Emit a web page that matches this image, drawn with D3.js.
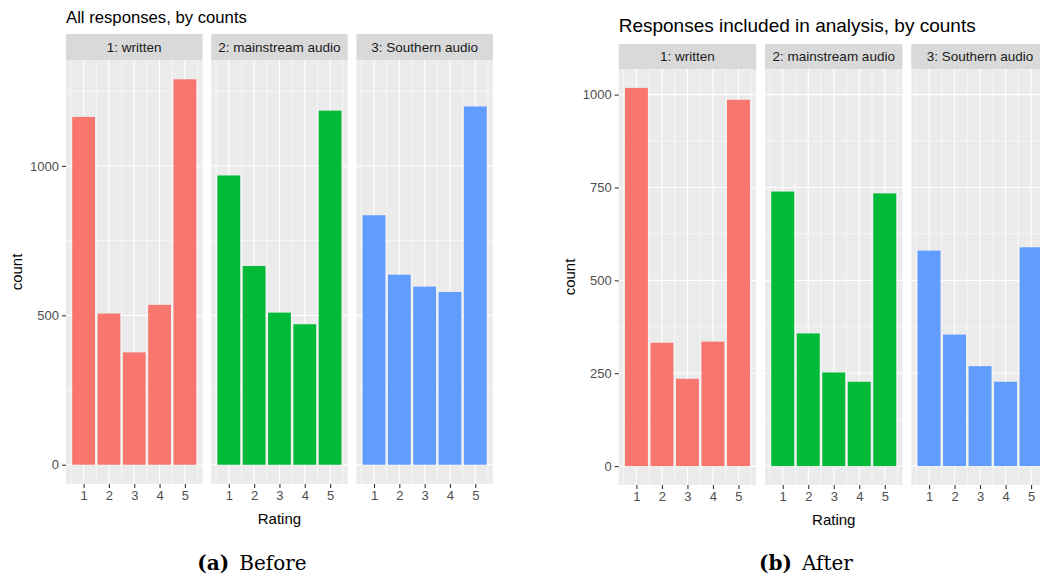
<!DOCTYPE html>
<html>
<head>
<meta charset="utf-8">
<script src="https://cdn.jsdelivr.net/npm/d3@7"></script>
<style>
  html, body { margin: 0; padding: 0; background: #ffffff; }
  svg { display: block; }
</style>
</head>
<body>
<svg id="chart" width="1040" height="575"></svg>
<script>
// Rating categories and facet names
const ratings = [1, 2, 3, 4, 5];
const facetNames = ["1: written", "2: mainstream audio", "3: Southern audio"];
const facetColors = ["#F8766D", "#00BA38", "#619CFF"];

// Counts per rating, all responses
const beforeWritten   = [1164, 506, 376, 535, 1290];
const beforeMainstream = [968, 665, 509, 470, 1185];
const beforeSouthern  = [835, 636, 596, 578, 1199];

// Counts per rating, responses included in analysis
const afterWritten    = [1018, 332, 235, 335, 986];
const afterMainstream = [739, 357, 252, 227, 734];
const afterSouthern   = [580, 354, 269, 227, 589];

// Y axis breaks
const beforeTicks = [0, 500, 1000];
const afterTicks = [0, 250, 500, 750, 1000];

const SANS = "Liberation Sans, Arial, sans-serif";
const svg = d3.select("#chart");

function facetChart(opts) {
  const g = svg.append("g");
  const series = opts.series;
  const maxVal = d3.max(series.flat());
  // 5% expansion on the count axis
  const y = d3.scaleLinear()
    .domain([-0.05 * maxVal, maxVal * 1.05])
    .range([opts.bottom, opts.top]);
  // continuous rating axis: bars span 0.55..5.45, expanded 5%
  const span = 5.45 - 0.55;
  const xDomain = [0.55 - 0.05 * span, 5.45 + 0.05 * span];

  // minor y breaks halfway between majors
  const majors = opts.ticks;
  const minors = [];
  const d = majors[1] - majors[0];
  for (let v = majors[0] + d / 2; v < maxVal * 1.05; v += d) {
    if (!majors.includes(v)) minors.push(v);
  }

  series.forEach((vals, i) => {
    const x0 = opts.left + i * (opts.width + opts.gap);
    const x = d3.scaleLinear().domain(xDomain).range([x0, x0 + opts.width]);
    const pg = g.append("g");

    // strip
    pg.append("rect")
      .attr("x", x0).attr("y", opts.stripTop)
      .attr("width", opts.width).attr("height", opts.top - opts.stripTop)
      .attr("fill", "#d9d9d9");
    pg.append("text")
      .attr("x", x0 + opts.width / 2)
      .attr("y", (opts.stripTop + opts.top) / 2)
      .attr("dy", "0.35em")
      .attr("text-anchor", "middle")
      .attr("font-family", SANS)
      .attr("font-size", 13.5)
      .attr("fill", "#1a1a1a")
      .text(facetNames[i]);

    // panel background
    pg.append("rect")
      .attr("x", x0).attr("y", opts.top)
      .attr("width", opts.width).attr("height", opts.bottom - opts.top)
      .attr("fill", "#ebebeb");

    // minor grid
    pg.selectAll(".hmin").data(minors).join("line")
      .attr("x1", x0).attr("x2", x0 + opts.width)
      .attr("y1", v => y(v)).attr("y2", v => y(v))
      .attr("stroke", "#ffffff").attr("stroke-width", 0.6);
    const xMinors = [0.5, 1.5, 2.5, 3.5, 4.5, 5.5];
    pg.selectAll(".vmin").data(xMinors).join("line")
      .attr("x1", v => x(v)).attr("x2", v => x(v))
      .attr("y1", opts.top).attr("y2", opts.bottom)
      .attr("stroke", "#ffffff").attr("stroke-width", 0.6);

    // major grid
    pg.selectAll(".hmaj").data(majors).join("line")
      .attr("x1", x0).attr("x2", x0 + opts.width)
      .attr("y1", v => y(v)).attr("y2", v => y(v))
      .attr("stroke", "#ffffff").attr("stroke-width", 1.1);
    pg.selectAll(".vmaj").data(ratings).join("line")
      .attr("x1", v => x(v)).attr("x2", v => x(v))
      .attr("y1", opts.top).attr("y2", opts.bottom)
      .attr("stroke", "#ffffff").attr("stroke-width", 1.1);

    // bars
    pg.selectAll(".bar").data(vals).join("rect")
      .attr("x", (v, j) => x(ratings[j] - 0.45))
      .attr("width", (v, j) => x(ratings[j] + 0.45) - x(ratings[j] - 0.45))
      .attr("y", v => y(v))
      .attr("height", v => y(0) - y(v))
      .attr("fill", facetColors[i]);

    // x axis
    const xAxis = d3.axisBottom(x).tickValues(ratings).tickSize(4).tickPadding(3)
      .tickFormat(d3.format("d"));
    const ax = pg.append("g").attr("transform", `translate(0,${opts.bottom})`).call(xAxis);
    ax.select(".domain").remove();
    ax.selectAll("line").attr("stroke", "#333333").attr("stroke-width", 1.1);
    ax.selectAll("text").attr("fill", "#4d4d4d").attr("font-size", 13)
      .attr("font-family", SANS);
  });

  // y axis
  const yAxis = d3.axisLeft(y).tickValues(majors).tickSize(4).tickPadding(3)
    .tickFormat(d3.format("d"));
  const ay = g.append("g").attr("transform", `translate(${opts.left},0)`).call(yAxis);
  ay.select(".domain").remove();
  ay.selectAll("line").attr("stroke", "#333333").attr("stroke-width", 1.1);
  ay.selectAll("text").attr("fill", "#4d4d4d").attr("font-size", 13)
    .attr("font-family", SANS);

  // axis titles
  const totalW = 3 * opts.width + 2 * opts.gap;
  g.append("text")
    .attr("transform", `translate(${opts.yTitleX},${(opts.top + opts.bottom) / 2}) rotate(-90)`)
    .attr("text-anchor", "middle")
    .attr("font-family", SANS)
    .attr("font-size", 15).attr("fill", "#000")
    .text("count");
  g.append("text")
    .attr("x", opts.left + totalW / 2)
    .attr("y", opts.bottom + 40)
    .attr("text-anchor", "middle")
    .attr("font-family", SANS)
    .attr("font-size", 15).attr("fill", "#000")
    .text("Rating");

  // plot title
  g.append("text")
    .attr("x", opts.left)
    .attr("y", opts.titleY)
    .attr("font-family", SANS)
    .attr("font-size", opts.titleSize).attr("fill", "#000")
    .text(opts.title);

  // subfigure caption
  const cap = g.append("text")
    .attr("x", opts.captionX)
    .attr("y", 570)
    .attr("text-anchor", "middle")
    .attr("font-family", "DejaVu Serif, Liberation Serif, serif")
    .attr("font-size", 20).attr("fill", "#000");
  cap.append("tspan").attr("font-weight", "bold").text(opts.captionTag);
  cap.append("tspan").text("\u2002" + opts.captionText);
}

facetChart({
  series: [beforeWritten, beforeMainstream, beforeSouthern],
  ticks: beforeTicks,
  left: 66, width: 136.5, gap: 8.7,
  stripTop: 34, top: 60, bottom: 484,
  yTitleX: 22, titleY: 23, titleSize: 16.7,
  title: "All responses, by counts",
  captionX: 252, captionTag: "(a)", captionText: "Before"
});

facetChart({
  series: [afterWritten, afterMainstream, afterSouthern],
  ticks: afterTicks,
  left: 618.7, width: 137.5, gap: 8.8,
  stripTop: 44, top: 69, bottom: 485,
  yTitleX: 575, titleY: 32, titleSize: 19,
  title: "Responses included in analysis, by counts",
  captionX: 806, captionTag: "(b)", captionText: "After"
});
</script>
</body>
</html>
